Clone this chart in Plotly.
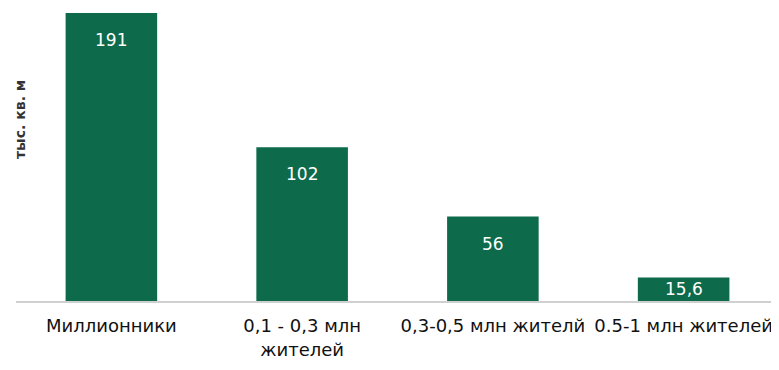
import plotly.graph_objects as go

# данные
categories = ["Миллионники", "0,1 - 0,3 млн<br>жителей", "0,3-0,5 млн жителй", "0.5-1 млн жителей"]
values = [191, 102, 56, 15.6]
value_labels = ["191", "102", "56", "15,6"]

bar_color = "#0d6b4b"
fig_w, fig_h = 771, 362   # страница добавляет отступ 8px
m_l, m_t, m_b = 8, 0, 69
plot_h = fig_h - m_t - m_b
y_max = 194.3
px_per_unit = plot_h / y_max

fig = go.Figure()
fig.add_trace(go.Bar(
    x=categories,
    y=values,
    marker=dict(color=bar_color, line=dict(width=0)),
    hoverinfo="skip",
))

# подписи значений внутри столбцов
for cat, v, lab in zip(categories, values, value_labels):
    shift = min(27, v * px_per_unit / 2)
    fig.add_annotation(
        x=cat, y=v, text=lab, showarrow=False,
        yanchor="middle", yshift=-shift,
        font=dict(family="DejaVu Sans", size=17, color="white"),
    )

# подпись оси Y
fig.add_annotation(
    xref="paper", yref="paper", x=(12 - m_l) / (fig_w - m_l), y=(plot_h - 112) / plot_h,
    text="<b>тыс. кв. м</b>", textangle=-90, showarrow=False,
    xanchor="center", yanchor="middle",
    font=dict(family="DejaVu Sans", size=14, color="#333333"),
)

fig.update_layout(
    width=fig_w, height=fig_h,
    margin=dict(l=m_l, r=0, t=m_t, b=m_b),
    paper_bgcolor="white",
    plot_bgcolor="white",
    bargap=0.52,
    showlegend=False,
    font=dict(family="DejaVu Sans", size=18, color="#111111"),
)
fig.update_xaxes(
    showline=True, linecolor="#d0d0d0", linewidth=1.5,
    ticks="", tickfont=dict(size=18, color="#111111"),
    ticklabelstandoff=8,
    showgrid=False, automargin=False,
)
fig.update_yaxes(
    range=[0, y_max], visible=False, showgrid=False, zeroline=False,
)

fig.write_html("out.html")
